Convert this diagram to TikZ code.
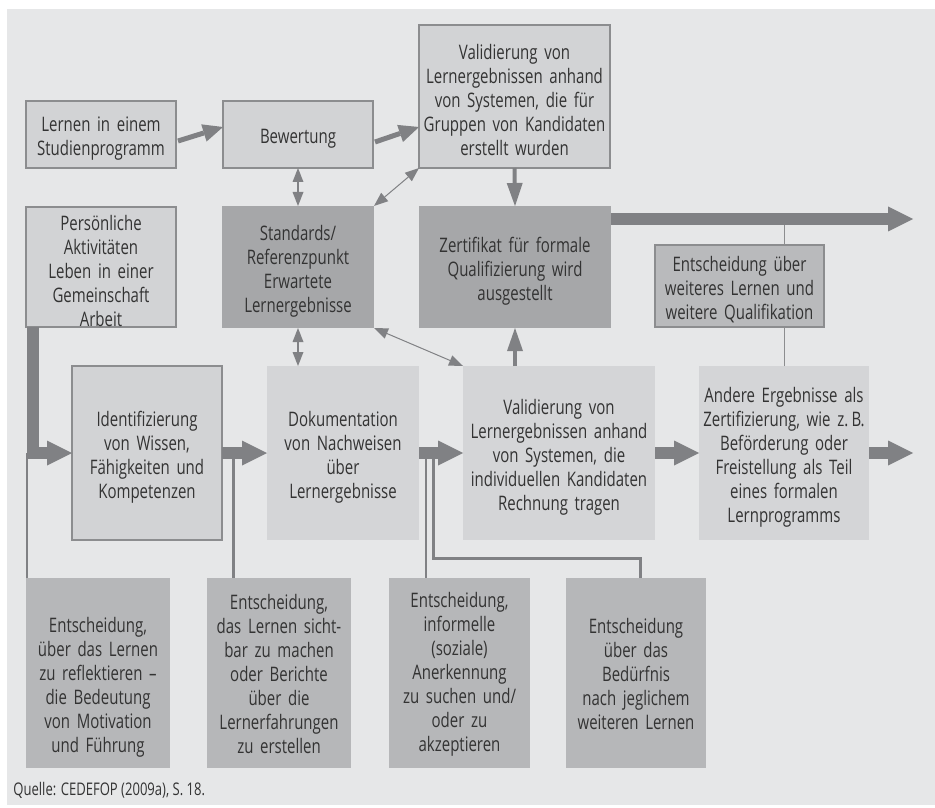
\documentclass[tikz,border=0pt]{standalone}
\usepackage{fontspec}
\setmainfont{Open Sans}[FakeStretch=0.75]
\usetikzlibrary{arrows.meta}
\definecolor{bgc}{HTML}{E6E7E8}
\definecolor{lightc}{HTML}{D2D3D5}
\definecolor{paleC}{HTML}{D4D5D7}
\definecolor{darkc}{HTML}{A6A7A9}
\definecolor{midc}{HTML}{B9BABC}
\definecolor{lowc}{HTML}{B6B7B9}
\definecolor{edgec}{HTML}{8C8D8F}
\definecolor{arrc}{HTML}{808184}
\definecolor{txt}{HTML}{333333}
% taller first line so the text block sits optically centred
\newcommand{\toplift}[1][11.5pt]{\rule{0pt}{#1}}
\tikzset{
  box/.style={inner sep=0pt, outer sep=0pt, align=center, text=txt,
    font=\fontsize{10pt}{12pt}\selectfont},
  sz/.style n args={3}{minimum width=#1, minimum height=#2, text width=#3},
  lbox/.style={box, fill=lightc, draw=edgec, line width=0.7pt},
  pbox/.style={box, fill=paleC},
  dbox/.style={box, fill=darkc},
  mbox/.style={box, fill=midc, draw=edgec, line width=0.7pt},
  bbox/.style={box, fill=lowc},
  bigarrow/.style={draw=arrc, line width=6pt,
    -{Triangle[length=12.5pt,width=12.5pt,line width=0pt]}},
  midarrow/.style={draw=arrc, line width=2.5pt,
    -{Triangle[length=10pt,width=9pt,line width=0pt]}},
  downarrow/.style={draw=arrc, line width=2pt,
    -{Triangle[length=11.5pt,width=8pt,line width=0pt]}},
  twoway/.style={draw=arrc, line width=1pt,
    {Triangle[length=7pt,width=5.5pt,line width=0pt]}-{Triangle[length=7pt,width=5.5pt,line width=0pt]}},
  slimtwoway/.style={draw=arrc, line width=0.5pt,
    {Triangle[length=7pt,width=5.5pt,line width=0pt]}-{Triangle[length=7pt,width=5.5pt,line width=0pt]}},
  drop/.style={draw=arrc, line width=1.4pt},
  hair/.style={draw=edgec, line width=0.5pt},
}
\begin{document}
\begin{tikzpicture}[x=0.5pt,y=-0.5pt]
\useasboundingbox (0,0) rectangle (935,807);
\fill[bgc] (7,9) rectangle (935,805);

% top row
\node[lbox, sz={75pt}{33.5pt}{74.5pt}] (lern) at (101,134.5) {\toplift Lernen in einem\\Studienprogramm};
\node[lbox, sz={75pt}{33.5pt}{74.5pt}] (bew) at (298,134.5) {\toplift Bewertung};
\node[lbox, sz={95.5pt}{71.5pt}{95pt}] (valg) at (514.5,96.5) {\toplift Validierung von\\Lernergebnissen anhand\\von Systemen, die für\\Gruppen von Kandidaten\\erstellt wurden};

% second row
\node[lbox, sz={75pt}{60pt}{74.5pt}] (pers) at (101,267) {\toplift Persönliche\\Aktivitäten\\Leben in einer\\Gemeinschaft\\Arbeit};
\node[dbox, sz={76pt}{61pt}{75.5pt}] (std) at (298,267) {\toplift Standards/\\Referenzpunkt\\Erwartete\\Lernergebnisse};
\node[dbox, sz={96pt}{61pt}{95.5pt}] (zert) at (515,267) {\toplift Zertifikat für formale\\Qualifizierung wird\\ausgestellt};
\node[mbox, sz={84.5pt}{41pt}{84pt}] (entw) at (739.5,286) {\toplift Entscheidung über\\weiteres Lernen und\\weitere Qualifikation};

% main row
\node[lbox, sz={75pt}{87pt}{74.5pt}] (ident) at (147,453) {\toplift Identifizierung\\von Wissen,\\Fähigkeiten und\\Kompetenzen};
\node[pbox, sz={76pt}{87pt}{75.5pt}] (doku) at (343,453) {\toplift Dokumentation\\von Nachweisen\\über\\Lernergebnisse};
\node[pbox, sz={96pt}{87pt}{95.5pt}] (vali) at (559,453) {\toplift Validierung von\\Lernergebnissen anhand\\von Systemen, die\\individuellen Kandidaten\\Rechnung tragen};
\node[pbox, sz={85pt}{87pt}{84.5pt}] (and) at (784,453) {\toplift Andere Ergebnisse als\\Zertifizierung, wie z.\,B.\\Beförderung oder\\Freistellung als Teil\\eines formalen\\Lernprogramms};

% decisions
\node[bbox, sz={72pt}{95pt}{71.5pt}] (e1) at (98,673) {\toplift[21.5pt]Entscheidung,\\über das Lernen\\zu reflektieren --\\die Bedeutung\\von Motivation\\und Führung};
\node[bbox, sz={72pt}{95pt}{71.5pt}] (e2) at (279,673) {\toplift[8.5pt]Entscheidung,\\das Lernen sicht-\\bar zu machen\\oder Berichte\\über die\\Lernerfahrungen\\zu erstellen};
\node[bbox, sz={70.5pt}{95pt}{70pt}] (e3) at (459.5,673) {\toplift[8.5pt]Entscheidung,\\informelle\\(soziale)\\Anerkennung\\zu suchen und/\\oder zu\\akzeptieren};
\node[bbox, sz={70pt}{95pt}{69.5pt}] (e4) at (636,673) {\toplift[8.5pt]Entscheidung\\über das\\Bedürfnis\\nach jeglichem\\weiteren Lernen};

\node[anchor=west, inner sep=0pt, text=txt, font=\fontsize{8.7pt}{10pt}\selectfont] (src) at (13,790) {Quelle: CEDEFOP (2009a), S. 18.};

% branch points on the main arrows
\coordinate (j1) at (27,453);
\coordinate (j2) at (233.5,453);
\coordinate (j3) at (426,453);
\coordinate (j4) at (433.5,453);
\coordinate (k4) at (640.5,558);
\coordinate (outtop) at (913,219);
\coordinate (outmid) at (913,453);

% drops to the decision boxes
\draw[drop, line width=1pt] (j1) -- (j1 |- e1.north);
\draw[drop, line width=1.5pt] (j2) -- (j2 |- e2.north);
\draw[drop] (j3) -- (j3 |- e3.north);
\draw[drop, line width=1.5pt] (j4) |- (k4) -- (k4 |- e4.north);

% further learning decision
\draw[hair] (and.north) -- (and.north |- entw.south);
\draw[hair] (and.north |- entw.north) -- (and.north |- outtop);

% main flow
\draw[bigarrow] ([xshift=3.25pt]pers.south west) |- (ident.west);
\draw[bigarrow] (ident.east) -- (doku.west);
\draw[bigarrow] (doku.east) -- (vali.west);
\draw[bigarrow] (vali.east) -- (and.west);
\draw[bigarrow] (and.east) -- (outmid);
\draw[bigarrow] ([yshift=-6.5pt]zert.north east) -- (outtop);

% upper flow
\draw[midarrow] ([xshift=1pt,yshift=-3.25pt]lern.east) -- ([yshift=3.75pt]bew.west);
\draw[midarrow] ([xshift=1pt,yshift=-3.75pt]bew.east) -- ([yshift=20.5pt]valg.south west);
\draw[downarrow] (valg.south) -- (zert.north);
\draw[downarrow] (zert.south |- vali.north) -- (zert.south);

% links to the standards
\draw[twoway] (bew.south) -- (std.north);
\draw[twoway] (std.south) -- (std.south |- doku.north);
\draw[slimtwoway] (std.north east) -- (valg.south west);
\draw[slimtwoway] (std.south east) -- (vali.north west);
\end{tikzpicture}
\end{document}
